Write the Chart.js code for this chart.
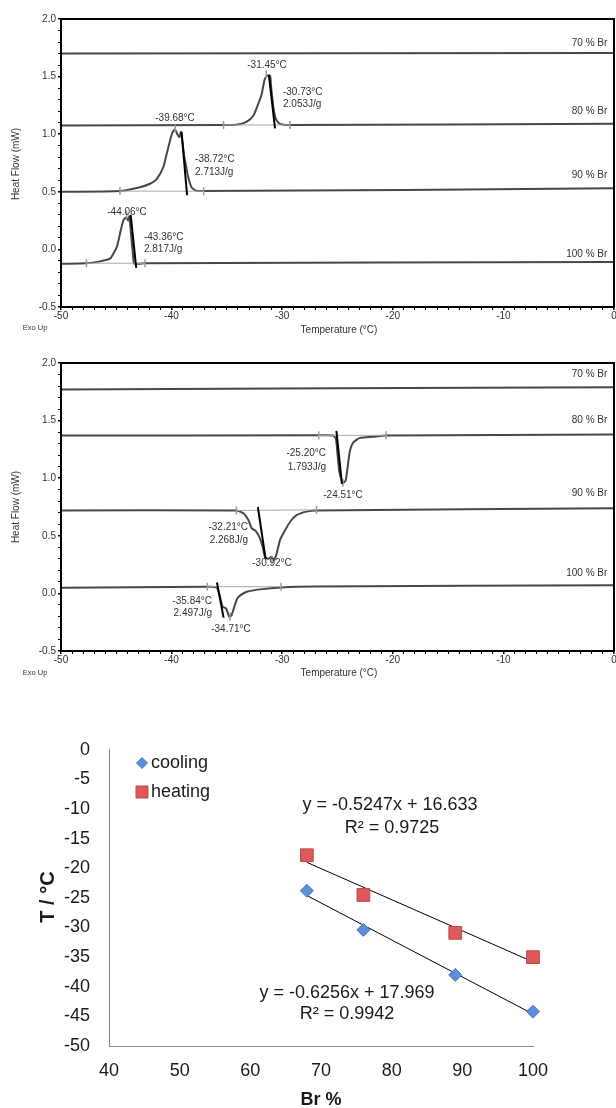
<!DOCTYPE html>
<html>
<head>
<meta charset="utf-8">
<script src="https://cdn.jsdelivr.net/npm/chart.js@4/dist/chart.umd.min.js"></script>
<style>
html,body{margin:0;padding:0;background:#fff;overflow:hidden;width:616px;height:1108px;}
#wrap{position:relative;width:616px;height:1108px;overflow:hidden;}
canvas{position:absolute;left:0;}
#c1{top:0;} #c2{top:340px;} #c3{top:720px;}
</style>
</head>
<body>
<div id="wrap">
<canvas id="c1" width="640" height="340"></canvas>
<canvas id="c2" width="640" height="340"></canvas>
<canvas id="c3" width="616" height="388"></canvas>
</div>
<script>
// ---------- DSC cooling (top panel) ----------
const cool70T = [-50, 0];
const cool70Q = [1.70, 1.705];
const cool80T = [-50, -35.3, -34, -33.2, -32.6, -32.16, -31.85, -31.6, -31.35, -31.1, -31.0, -30.8, -30.56, -30.2, -29.3, 0];
const cool80Q = [1.075, 1.08, 1.085, 1.11, 1.163, 1.265, 1.35, 1.47, 1.51, 1.51, 1.41, 1.235, 1.13, 1.09, 1.08, 1.09];
const cool90T = [-50, -44.67, -42.86, -41.95, -41.35, -40.75, -40.44, -40.14, -39.9, -39.68, -39.48, -39.3, -39.15, -39.0, -38.85, -38.73, -38.5, -38.2, -37.7, 0];
const cool90Q = [0.50, 0.506, 0.54, 0.57, 0.61, 0.715, 0.83, 0.946, 1.02, 1.04, 1.0, 0.975, 1.02, 0.917, 0.80, 0.744, 0.628, 0.54, 0.506, 0.53];
const cool100T = [-50, -47.7, -46.47, -45.57, -45.27, -44.96, -44.8, -44.6, -44.36, -44.1, -43.94, -43.82, -43.67, -43.5, -43.37, -42.4, 0];
const cool100Q = [-0.125, -0.12, -0.104, -0.081, -0.038, 0.02, 0.078, 0.165, 0.252, 0.28, 0.25, 0.287, 0.136, -0.038, -0.124, -0.12, -0.11];
// integration baselines (gray) and onset tangents (black)
const coolBase80T = [-35.3, -29.3], coolBase80Q = [1.08, 1.08];
const coolBase90T = [-44.67, -37.1], coolBase90Q = [0.506, 0.505];
const coolBase100T = [-47.7, -42.4], coolBase100Q = [-0.12, -0.12];
const coolTan80T = [-31.2, -30.65], coolTan80Q = [1.51, 1.05];
const coolTan90T = [-39.1, -38.6], coolTan90Q = [1.02, 0.47];
const coolTan100T = [-43.7, -43.2], coolTan100Q = [0.30, -0.16];
const coolMarkT = [-35.3, -29.3, -31.45, -44.67, -37.1, -39.68, -47.7, -42.4, -44.06];
const coolMarkQ = [1.08, 1.08, 1.52, 0.506, 0.505, 1.05, -0.12, -0.12, 0.30];

// ---------- DSC heating (middle panel) ----------
const heat70T = [-50, 0];
const heat70Q = [1.77, 1.79];
const heat80T = [-50, -26.7, -25.38, -25.14, -24.99, -24.84, -24.62, -24.48, -24.26, -24.08, -23.87, -23.57, -22.97, -21.8, -20.6, 0];
const heat80Q = [1.37, 1.372, 1.37, 1.34, 1.2, 1.06, 0.98, 0.96, 0.98, 1.10, 1.24, 1.31, 1.35, 1.36, 1.37, 1.38];
const heat90T = [-50, -34.15, -33.5, -33.05, -32.75, -32.4, -32.07, -31.77, -31.56, -31.26, -30.96, -30.75, -30.5, -30.2, -29.9, -29.3, -28.7, -27.8, -26.9, 0];
const heat90Q = [0.72, 0.72, 0.695, 0.636, 0.564, 0.543, 0.49, 0.405, 0.318, 0.30, 0.318, 0.29, 0.347, 0.463, 0.52, 0.62, 0.68, 0.71, 0.72, 0.74];
const heat100T = [-50, -36.77, -35.92, -35.62, -35.38, -35.08, -34.78, -34.57, -34.33, -34.06, -33.76, -33.2, -32.0, -30.1, -27, 0];
const heat100Q = [0.05, 0.058, 0.052, -0.03, -0.116, -0.13, -0.203, -0.188, -0.116, -0.044, -0.015, 0.014, 0.035, 0.052, 0.06, 0.07];
const heatBase80T = [-26.7, -20.6], heatBase80Q = [1.372, 1.372];
const heatBase90T = [-34.15, -26.9], heatBase90Q = [0.72, 0.725];
const heatBase100T = [-36.77, -30.1], heatBase100Q = [0.058, 0.058];
const heatTan80T = [-25.1, -24.6], heatTan80Q = [1.41, 0.95];
const heatTan90T = [-32.2, -31.5], heatTan90Q = [0.75, 0.30];
const heatTan100T = [-35.9, -35.3], heatTan100Q = [0.095, -0.21];
const heatMarkT = [-26.7, -20.6, -24.51, -34.15, -26.9, -30.92, -36.77, -30.1, -34.71];
const heatMarkQ = [1.372, 1.372, 0.96, 0.72, 0.725, 0.29, 0.058, 0.058, -0.20];

// ---------- Transition temperature vs Br % (bottom panel) ----------
const brPercent = [68, 76, 89, 100];
const coolingT = [-23.8, -30.4, -38.0, -44.2];
const heatingT = [-17.8, -24.5, -30.9, -35.0];
const trendX = [68, 100];
const coolingTrend = [-24.6, -44.6];
const heatingTrend = [-19.0, -35.8];

const FONT = '"Liberation Sans", Arial, Helvetica, sans-serif';

function pts(T, Q) { return T.map((t, i) => ({x: t, y: Q[i]})); }

const textPlugin = {
  id: 'panelText',
  afterDraw(chart, args, opts) {
    const ctx = chart.ctx;
    const xs = chart.scales.x, ys = chart.scales.y;
    ctx.save();
    if (opts.frame) {
      const a = chart.chartArea;
      ctx.lineWidth = 2;
      ctx.strokeStyle = '#000';
      ctx.strokeRect(a.left, a.top, a.right - a.left, a.bottom - a.top);
    }
    (opts.items || []).forEach(it => {
      ctx.font = it.font || opts.font;
      ctx.fillStyle = it.color || opts.color || '#333';
      ctx.textAlign = it.align || 'left';
      ctx.textBaseline = 'middle';
      ctx.fillText(it.text, xs.getPixelForValue(it.x), ys.getPixelForValue(it.y));
    });
    (opts.pixelTexts || []).forEach(it => {
      ctx.save();
      ctx.font = it.font || opts.font;
      ctx.fillStyle = it.color || opts.color || '#333';
      ctx.textAlign = it.align || 'center';
      ctx.textBaseline = 'middle';
      ctx.translate(it.px, it.py);
      if (it.rot) ctx.rotate(it.rot);
      ctx.fillText(it.text, 0, 0);
      ctx.restore();
    });
    if (opts.legend) {
      opts.legend.forEach(l => {
        const ds = chart.data.datasets[l.ds];
        ctx.fillStyle = ds.backgroundColor;
        ctx.strokeStyle = ds.borderColor;
        ctx.lineWidth = 1;
        ctx.beginPath();
        if (ds.pointStyle === 'rectRot') {
          const r = l.r;
          ctx.moveTo(l.px - r, l.py); ctx.lineTo(l.px, l.py - r);
          ctx.lineTo(l.px + r, l.py); ctx.lineTo(l.px, l.py + r);
          ctx.closePath();
        } else {
          ctx.rect(l.px - l.r, l.py - l.r, 2 * l.r, 2 * l.r);
        }
        ctx.fill(); ctx.stroke();
        ctx.font = l.font;
        ctx.fillStyle = '#1a1a1a';
        ctx.textAlign = 'left';
        ctx.textBaseline = 'middle';
        ctx.fillText(ds.label, l.tx, l.py);
      });
    }
    ctx.restore();
  }
};

function dscDatasets(curves, bases, tans, markT, markQ) {
  const ds = [];
  tans.forEach(t => ds.push({data: pts(t[0], t[1]), borderColor: '#000', borderWidth: 2, showLine: true, pointRadius: 0}));
  ds.push({data: pts(markT, markQ), showLine: false, pointStyle: 'line', rotation: 90, pointRadius: 4,
           borderColor: '#9a9a9a', pointBorderColor: '#9a9a9a', pointBorderWidth: 1.5});
  bases.forEach(b => ds.push({data: pts(b[0], b[1]), borderColor: '#a8a8a8', borderWidth: 1, showLine: true, pointRadius: 0}));
  curves.forEach(c => ds.push({data: pts(c[0], c[1]), borderColor: '#474747', borderWidth: 2, showLine: true, pointRadius: 0, tension: 0.2}));
  return ds;
}

function dscOptions(padTop, xHeight, items, pixelTexts) {
  return {
    responsive: false, devicePixelRatio: 1, animation: false,
    layout: {padding: {top: padTop, right: 26, left: 0, bottom: 0}},
    plugins: {legend: {display: false}, tooltip: {enabled: false},
      panelText: {frame: true, font: '10px ' + FONT, color: '#333', items: items, pixelTexts: pixelTexts}},
    scales: {
      x: {type: 'linear', min: -50, max: 0,
          afterFit: s => { s.height = xHeight; },
          ticks: {stepSize: 1, autoSkip: false, maxRotation: 0, minRotation: 0, padding: 0,
                  font: {family: FONT, size: 10}, color: '#333',
                  callback: v => (Math.round(v) % 10 === 0 ? String(Math.round(v)) : '')},
          grid: {drawOnChartArea: false, drawTicks: true, tickLength: 3, color: '#000',
                 lineWidth: c => (c.tick && Math.round(c.tick.value) % 10 === 0 ? 1.5 : 1)},
          border: {display: false}},
      y: {type: 'linear', min: -0.5, max: 2.0,
          afterFit: s => { s.width = 61; },
          ticks: {stepSize: 0.1, autoSkip: false, padding: 2,
                  font: {family: FONT, size: 10}, color: '#333',
                  callback: v => (Math.round(v * 10) % 5 === 0 ? v.toFixed(1) : '')},
          grid: {drawOnChartArea: false, drawTicks: true, tickLength: 3, color: '#000',
                 lineWidth: c => (c.tick && Math.round(c.tick.value * 10) % 5 === 0 ? 1.5 : 1)},
          border: {display: false}}
    }
  };
}

// Top panel
new Chart(document.getElementById('c1'), {
  type: 'scatter',
  data: {datasets: dscDatasets(
    [[cool70T, cool70Q], [cool80T, cool80Q], [cool90T, cool90Q], [cool100T, cool100Q]],
    [[coolBase80T, coolBase80Q], [coolBase90T, coolBase90Q], [coolBase100T, coolBase100Q]],
    [[coolTan80T, coolTan80Q], [coolTan90T, coolTan90Q], [coolTan100T, coolTan100Q]],
    coolMarkT, coolMarkQ)},
  options: dscOptions(19, 33, [
    {text: '-31.45°C', x: -31.37, y: 1.60, align: 'center'},
    {text: '-30.73°C', x: -29.93, y: 1.363},
    {text: '2.053J/g', x: -29.93, y: 1.259},
    {text: '-39.68°C', x: -39.69, y: 1.137, align: 'center'},
    {text: '-38.72°C', x: -37.88, y: 0.781},
    {text: '2.713J/g', x: -37.88, y: 0.668},
    {text: '-44.06°C', x: -44.03, y: 0.321, align: 'center'},
    {text: '-43.36°C', x: -42.5, y: 0.104},
    {text: '2.817J/g', x: -42.5, y: 0.0},
    {text: '70 % Br', x: -0.6, y: 1.79, align: 'right'},
    {text: '80 % Br', x: -0.6, y: 1.198, align: 'right'},
    {text: '90 % Br', x: -0.6, y: 0.642, align: 'right'},
    {text: '100 % Br', x: -0.6, y: -0.043, align: 'right'}
  ], [
    {text: 'Exo Up', px: 35, py: 328, font: '7.5px ' + FONT},
    {text: 'Temperature (°C)', px: 339, py: 330, font: '10px ' + FONT},
    {text: 'Heat Flow (mW)', px: 16, py: 164, rot: -Math.PI / 2, font: '10px ' + FONT}
  ]),
  plugins: [textPlugin]
});

// Middle panel
new Chart(document.getElementById('c2'), {
  type: 'scatter',
  data: {datasets: dscDatasets(
    [[heat70T, heat70Q], [heat80T, heat80Q], [heat90T, heat90Q], [heat100T, heat100Q]],
    [[heatBase80T, heatBase80Q], [heatBase90T, heatBase90Q], [heatBase100T, heatBase100Q]],
    [[heatTan80T, heatTan80Q], [heatTan90T, heatTan90Q], [heatTan100T, heatTan100Q]],
    heatMarkT, heatMarkQ)},
  options: dscOptions(23, 29, [
    {text: '-25.20°C', x: -26.04, y: 1.218, align: 'right'},
    {text: '1.793J/g', x: -26.04, y: 1.096, align: 'right'},
    {text: '-24.51°C', x: -24.5, y: 0.853, align: 'center'},
    {text: '-32.21°C', x: -33.09, y: 0.575, align: 'right'},
    {text: '2.268J/g', x: -33.09, y: 0.462, align: 'right'},
    {text: '-30.92°C', x: -30.92, y: 0.263, align: 'center'},
    {text: '-35.84°C', x: -36.35, y: -0.067, align: 'right'},
    {text: '2.497J/g', x: -36.35, y: -0.17, align: 'right'},
    {text: '-34.71°C', x: -34.63, y: -0.31, align: 'center'},
    {text: '70 % Br', x: -0.6, y: 1.904, align: 'right'},
    {text: '80 % Br', x: -0.6, y: 1.505, align: 'right'},
    {text: '90 % Br', x: -0.6, y: 0.871, align: 'right'},
    {text: '100 % Br', x: -0.6, y: 0.176, align: 'right'}
  ], [
    {text: 'Exo Up', px: 35, py: 333, font: '7.5px ' + FONT},
    {text: 'Temperature (°C)', px: 339, py: 333, font: '10px ' + FONT},
    {text: 'Heat Flow (mW)', px: 16, py: 167, rot: -Math.PI / 2, font: '10px ' + FONT}
  ]),
  plugins: [textPlugin]
});

// Bottom panel
const coolTrendPts = trendX.map((x, i) => ({x: x, y: coolingTrend[i]}));
const heatTrendPts = trendX.map((x, i) => ({x: x, y: heatingTrend[i]}));
new Chart(document.getElementById('c3'), {
  type: 'scatter',
  data: {datasets: [
    {label: 'cooling', data: brPercent.map((x, i) => ({x: x, y: coolingT[i]})), clip: false,
     pointStyle: 'rectRot', pointRadius: 6.5, backgroundColor: '#5b8fd8', borderColor: '#4677be', pointBorderWidth: 1},
    {label: 'heating', data: brPercent.map((x, i) => ({x: x, y: heatingT[i]})), clip: false,
     pointStyle: 'rect', pointRadius: 9, backgroundColor: '#de5a5a', borderColor: '#be4b48', pointBorderWidth: 1},
    {label: 'cool trend', data: coolTrendPts, showLine: true, borderColor: '#000', borderWidth: 1, pointRadius: 0, clip: false},
    {label: 'heat trend', data: heatTrendPts, showLine: true, borderColor: '#000', borderWidth: 1, pointRadius: 0, clip: false}
  ]},
  options: {
    responsive: false, devicePixelRatio: 1, animation: false,
    layout: {padding: {top: 22, right: 83, left: 0, bottom: 0}},
    plugins: {legend: {display: false}, tooltip: {enabled: false},
      panelText: {frame: false, font: '18px ' + FONT, color: '#1a1a1a',
        items: [
          {text: 'y = -0.5247x + 16.633', x: 79.76, y: -9.375, align: 'center'},
          {text: 'R² = 0.9725', x: 80.05, y: -13.16, align: 'center'},
          {text: 'y = -0.6256x + 17.969', x: 73.68, y: -41.12, align: 'center'},
          {text: 'R² = 0.9942', x: 73.68, y: -44.57, align: 'center'}
        ],
        pixelTexts: [
          {text: 'T / °C', px: 48, py: 177, rot: -Math.PI / 2, font: 'bold 20px ' + FONT},
          {text: 'Br %', px: 321, py: 380, font: 'bold 18px ' + FONT}
        ],
        legend: [
          {ds: 0, px: 142, py: 43, r: 5.5, tx: 151, font: '18px ' + FONT},
          {ds: 1, px: 142, py: 72, r: 6, tx: 151, font: '18px ' + FONT}
        ]}},
    scales: {
      x: {type: 'linear', min: 40, max: 100,
          afterFit: s => { s.height = 62; },
          ticks: {stepSize: 10, padding: 14, maxRotation: 0, font: {family: FONT, size: 18}, color: '#1a1a1a'},
          grid: {display: true, drawOnChartArea: false, drawTicks: false},
          border: {display: true, color: '#8a8a8a', width: 1}},
      y: {type: 'linear', min: -50, max: 0,
          afterFit: s => { s.width = 109; },
          ticks: {stepSize: 5, padding: 19, font: {family: FONT, size: 18}, color: '#1a1a1a'},
          grid: {display: true, drawOnChartArea: false, drawTicks: false},
          border: {display: true, color: '#8a8a8a', width: 1}}
    }
  },
  plugins: [textPlugin]
});
</script>
</body>
</html>
